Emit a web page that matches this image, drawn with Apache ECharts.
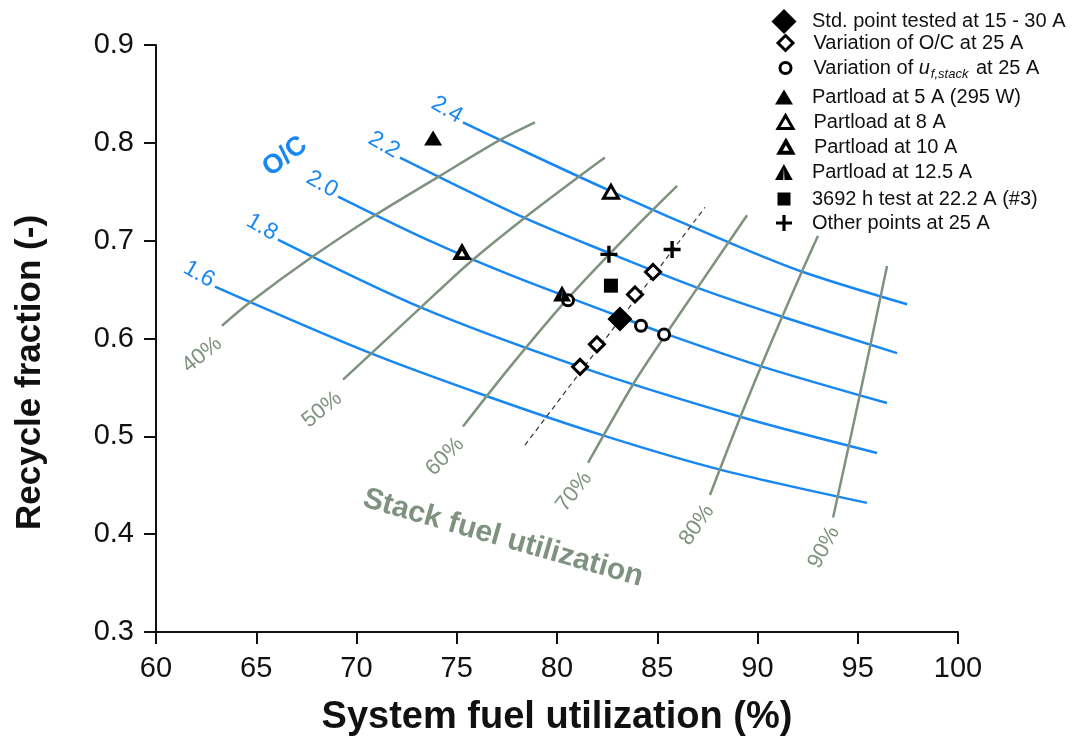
<!DOCTYPE html>
<html>
<head>
<meta charset="utf-8">
<script src="https://cdn.jsdelivr.net/npm/echarts@6/dist/echarts.min.js"></script>
<style>
  html, body { margin: 0; padding: 0; background: #fff; }
  #chart { width: 1073px; height: 746px; }
</style>
</head>
<body>
<div id="chart"></div>
<script>
// Axis ticks
const xTicks = [60, 65, 70, 75, 80, 85, 90, 95, 100];
const yTicks = [0.3, 0.4, 0.5, 0.6, 0.7, 0.8, 0.9];

// O/C iso-lines: [system fuel utilization (%), recycle fraction]
const ocLevels = ['1.6', '1.8', '2.0', '2.2', '2.4'];
const oc16 = [[62.94, 0.653], [70.57, 0.586], [76.51, 0.541], [82.29, 0.501], [88.13, 0.466], [95.46, 0.432]];
const oc18 = [[66.08, 0.701], [73.17, 0.632], [81.15, 0.571], [89.13, 0.520], [95.96, 0.483]];
const oc20 = [[69.08, 0.745], [73.52, 0.701], [77.66, 0.665], [82.79, 0.625], [85.39, 0.605], [90.27, 0.571], [96.46, 0.534]];
const oc22 = [[72.17, 0.785], [78.30, 0.724], [82.64, 0.687], [86.98, 0.652], [91.27, 0.622], [96.96, 0.585]];
const oc24 = [[75.31, 0.821], [77.16, 0.803], [82.64, 0.751], [88.48, 0.699], [92.27, 0.668], [97.46, 0.635]];

// Stack fuel utilization iso-lines
const suLevels = ['40%', '50%', '60%', '70%', '80%', '90%'];
const su40 = [[63.29, 0.613], [64.69, 0.637], [67.83, 0.684], [70.92, 0.726], [74.06, 0.765], [77.16, 0.803], [78.90, 0.821]];
const su50 = [[69.33, 0.558], [73.17, 0.631], [75.66, 0.678], [78.30, 0.722], [81.00, 0.764], [82.39, 0.785]];
const su60 = [[75.31, 0.510], [77.66, 0.571], [80.50, 0.640], [83.64, 0.708], [85.99, 0.756]];
const su70 = [[81.55, 0.473], [83.79, 0.553], [85.39, 0.603], [86.98, 0.651], [89.48, 0.726]];
const su80 = [[87.63, 0.440], [89.13, 0.519], [90.70, 0.597], [92.27, 0.671], [93.02, 0.705]];
const su90 = [[93.77, 0.417], [95.11, 0.543], [96.46, 0.674]];

// Trend line through the O/C variation
const ocTrend = [[78.40, 0.491], [87.38, 0.734]];

// Measured operating points
const stdPoint = [[83.14, 0.620]];
const ocVariation = [[81.15, 0.571], [81.99, 0.594], [83.89, 0.645], [84.79, 0.668]];
const ufVariation = [[80.55, 0.639], [84.19, 0.613], [85.34, 0.604]];
const partload5 = [[73.82, 0.805]];
const partload8 = [[82.69, 0.750]];
const partload10 = [[75.26, 0.688]];
const partload12 = [[80.25, 0.646]];
const test3692 = [[82.69, 0.654]];
const otherPoints = [[82.59, 0.686], [85.74, 0.691]];

const seriesNames = [
  'Std. point tested at 15 - 30 A',
  'Variation of O/C at 25 A',
  'Variation of u_f,stack at 25 A',
  'Partload at 5 A (295 W)',
  'Partload at 8 A',
  'Partload at 10 A',
  'Partload at 12.5 A',
  '3692 h test at 22.2 A (#3)',
  'Other points at 25 A'
];

const BLUE = '#1787f2';
const GREEN = '#7e927f';
const INK = '#111';
const FONT = '"Liberation Sans", Arial, Helvetica, sans-serif';

const plusPath = 'path://M40,0 L60,0 L60,40 L100,40 L100,60 L60,60 L60,100 L40,100 L40,60 L0,60 L0,40 L40,40 Z';
const splitTriPath = 'path://M50,0 L100,90 L53.5,90 L50,22 L46.5,90 L0,90 Z';

// Marker styles (series and legend share these)
const markerStyles = [
  { data: stdPoint,    symbol: 'diamond',  size: 25,       fill: '#000', bw: 0,   lw: 25, lh: 25 },
  { data: ocVariation, symbol: 'diamond',  size: 15,       fill: '#fff', bw: 3,   lw: 15, lh: 15 },
  { data: ufVariation, symbol: 'circle',   size: 11,       fill: '#fff', bw: 3,   lw: 11, lh: 11 },
  { data: partload5,   symbol: 'triangle', size: [18, 15], fill: '#000', bw: 0,   lw: 18, lh: 15 },
  { data: partload8,   symbol: 'triangle', size: [15, 13], fill: '#fff', bw: 3,   lw: 15, lh: 13 },
  { data: partload10,  symbol: 'triangle', size: [13, 11.5], fill: '#fff', bw: 3.8, lw: 13, lh: 11.5 },
  { data: partload12,  symbol: splitTriPath, size: [18, 16], fill: '#000', bw: 0, lw: 18, lh: 16 },
  { data: test3692,    symbol: 'rect',     size: 14,       fill: '#000', bw: 0,   lw: 13, lh: 13 },
  { data: otherPoints, symbol: plusPath,   size: 17,       fill: '#000', bw: 0,   lw: 16, lh: 16 }
];
const legendRowY = [21, 43, 68, 97, 122, 147, 172, 199, 223];

function curve(data, color) {
  return {
    type: 'line', data: data, showSymbol: false, symbol: 'none', smooth: 0.3,
    lineStyle: { color: color, width: 2.5 }, silent: true, z: 2
  };
}

const ocCurves = [oc16, oc18, oc20, oc22, oc24];
const suCurves = [su40, su50, su60, su70, su80, su90];

const series = [];
ocCurves.forEach(c => series.push(curve(c, BLUE)));
suCurves.forEach(c => series.push(curve(c, GREEN)));
series.push({
  type: 'line', data: ocTrend, showSymbol: false, symbol: 'none', silent: true, z: 3,
  lineStyle: { color: '#333', width: 1.2, type: [5, 4] }
});
markerStyles.forEach((m, i) => {
  series.push({
    type: 'scatter', name: seriesNames[i], data: m.data, symbol: m.symbol, symbolSize: m.size,
    itemStyle: { color: m.fill, borderColor: '#000', borderWidth: m.bw, borderJoin: 'miter', opacity: 1 },
    emphasis: { disabled: true },
    z: 5 + (i === 0 ? 1 : 0)
  });
});

const legends = markerStyles.map((m, i) => ({
  data: [seriesNames[i]],
  orient: 'vertical',
  left: 784 - m.lw / 2,
  top: legendRowY[i] - 12,
  padding: 0,
  itemWidth: m.lw,
  itemHeight: m.lh,
  selectedMode: false,
  itemStyle: { color: m.fill, borderColor: '#000', borderWidth: m.bw, borderJoin: 'miter', opacity: 1 },
  formatter: name => name === seriesNames[2] ? 'Variation of {it|u}{sub|f,stack} at 25 A' : name,
  textStyle: {
    fontFamily: FONT, fontSize: 20, color: INK, lineHeight: 24,
    padding: [0, 0, 0, 23 - m.lw / 2],
    rich: {
      it: { fontFamily: FONT, fontSize: 20, fontStyle: 'italic', color: INK },
      sub: { fontFamily: FONT, fontSize: 13, fontStyle: 'italic', color: INK, padding: [12, 2, 0, 1] }
    }
  }
}));

const option = {
  animation: false,
  backgroundColor: '#fff',
  textStyle: { fontFamily: FONT },
  grid: { left: 156, right: 115, top: 45, bottom: 114, containLabel: false, outerBoundsMode: 'none' },
  legend: legends,
  xAxis: {
    type: 'value', min: xTicks[0], max: xTicks[xTicks.length - 1], interval: 5,
    name: 'System fuel utilization (%)', nameLocation: 'middle', nameGap: 67,
    nameTextStyle: { fontFamily: FONT, fontSize: 38, fontWeight: 'bold', color: INK },
    axisLine: { onZero: false, lineStyle: { color: '#111', width: 2 } },
    axisTick: { show: true, inside: false, length: 12, lineStyle: { color: '#111', width: 2 } },
    axisLabel: { fontSize: 29, color: INK, margin: 22, formatter: v => String(v) },
    splitLine: { show: false }
  },
  yAxis: {
    type: 'value', min: yTicks[0], max: yTicks[yTicks.length - 1], interval: 0.1,
    name: 'Recycle fraction (-)', nameLocation: 'middle', nameGap: 108,
    nameTextStyle: { fontFamily: FONT, fontSize: 35, fontWeight: 'bold', color: INK, padding: [0, 68, 0, 0] },
    axisLine: { show: true, onZero: false, lineStyle: { color: '#111', width: 2 } },
    axisTick: { show: true, inside: false, length: 12, lineStyle: { color: '#111', width: 2 } },
    axisLabel: { fontSize: 29, color: INK, margin: 22, formatter: v => v.toFixed(1) },
    splitLine: { show: false }
  },
  series: series
};

const chart = echarts.init(document.getElementById('chart'), null, { renderer: 'canvas' });
chart.setOption(option);

// Curve labels anchored to each curve's first point
const toPx = p => chart.convertToPixel({ gridIndex: 0 }, p);
const deg = a => a * Math.PI / 180;
const suLabelShift = [[-20, 29], [-21, 30], [-18, 30], [-14, 29], [-13, 30], [-9, 30]];
const suLabelAngle = [39, 39, 45, 52, 55, 62];

function textEl(x, y, text, opts) {
  return {
    type: 'text', x: x, y: y, rotation: opts.rotation || 0, silent: true, z: 10,
    style: {
      text: text, fill: opts.color, fontFamily: FONT, fontSize: opts.size,
      fontWeight: opts.weight || 'normal',
      align: 'center', verticalAlign: 'middle', textAlign: 'center', textVerticalAlign: 'middle'
    }
  };
}

const graphics = [];
ocCurves.forEach((c, i) => {
  const p = toPx(c[0]);
  graphics.push(textEl(p[0] - 16, p[1] - 12.5, ocLevels[i], { color: BLUE, size: 23, rotation: deg(-30) }));
});
suCurves.forEach((c, i) => {
  const p = toPx(c[0]);
  graphics.push(textEl(p[0] + suLabelShift[i][0], p[1] + suLabelShift[i][1], suLevels[i],
    { color: GREEN, size: 22, rotation: deg(suLabelAngle[i]) }));
});
const ocTitle = toPx([66.43, 0.786]);
graphics.push(textEl(ocTitle[0], ocTitle[1], 'O/C', { color: BLUE, size: 27, weight: 'bold', rotation: deg(37) }));
const suTitle = toPx([77.31, 0.396]);
graphics.push(textEl(suTitle[0], suTitle[1], 'Stack fuel utilization', { color: GREEN, size: 30, weight: 'bold', rotation: deg(-16) }));

chart.setOption({ graphic: graphics });
</script>
</body>
</html>
